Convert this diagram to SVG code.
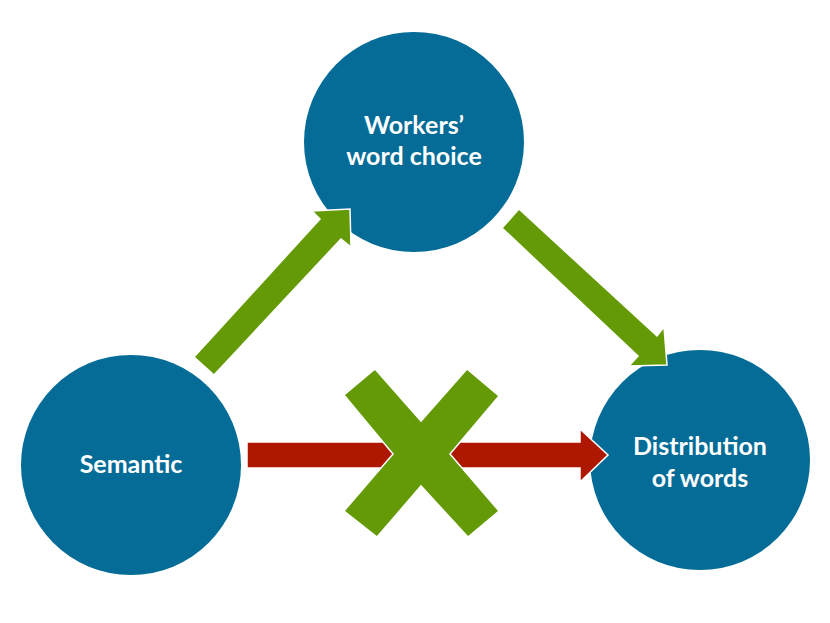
<svg xmlns="http://www.w3.org/2000/svg" width="830" height="623" viewBox="0 0 830 623">
<style>
.node{fill:#046C96}
.lbl{fill:#fff;font-family:Lato,"Open Sans","Liberation Sans",sans-serif;font-weight:bold;font-size:25px;text-anchor:middle}
.green{fill:#639A05;stroke:#fff;stroke-width:1.5;stroke-linejoin:miter}
.red{fill:#AE1700;stroke:#fff;stroke-width:1.5}
</style>
<rect width="830" height="623" fill="#fff"/>
<g id="node-workers">
<circle class="node" cx="414" cy="142" r="110"/>
<text class="lbl" x="414" y="134">Workers’</text>
<text class="lbl" x="414" y="165">word choice</text>
</g>
<g id="node-semantic">
<circle class="node" cx="131" cy="465" r="110"/>
<text class="lbl" x="131" y="473">Semantic</text>
</g>
<g id="node-distribution">
<circle class="node" cx="700" cy="460" r="110"/>
<text class="lbl" x="700" y="455">Distribution</text>
<text class="lbl" x="700" y="487">of words</text>
</g>
<g id="connectors">
<polygon class="green" points="194,357 214,375 341,239 351,247 350,209 312,211 320,219"/>
<polygon class="green" points="519,209 657,336 664,327 667,365 629,366 638,356 502,228"/>
<polygon class="red" points="247,442 580,442 580,429 608,455 580,482 580,468 247,468"/>
<polygon class="green" stroke-width="2" points="375,369 421,421 467,369 499,396 450,454 499,511 468,537 421,486 377,537 344,511 393,454 344,395"/>
</g>
</svg>
